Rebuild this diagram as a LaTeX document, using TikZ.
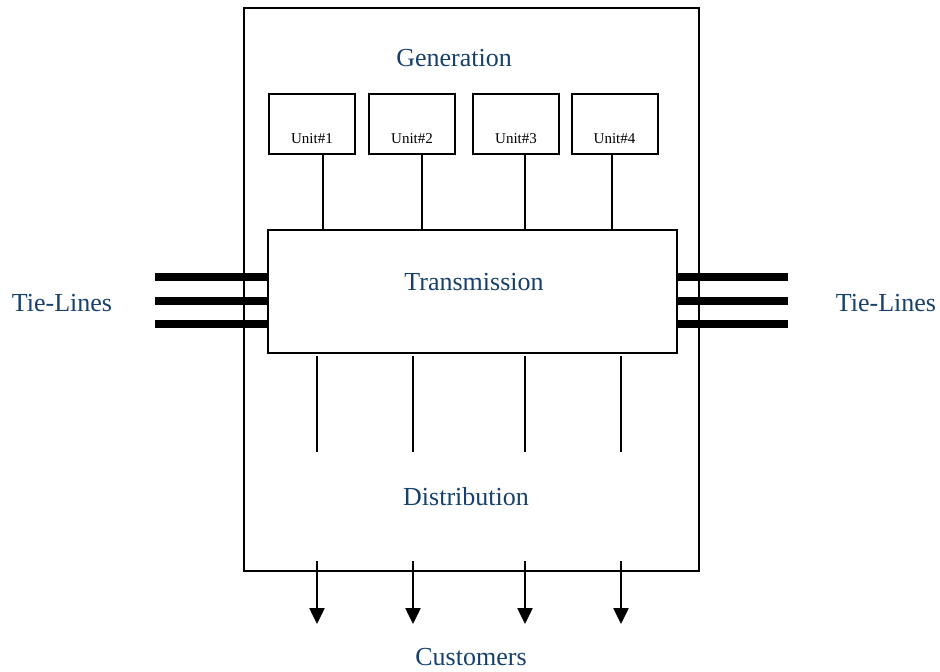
\documentclass[tikz,border=0pt]{standalone}
\usepackage{fontspec}
\setmainfont{Liberation Serif}
\usetikzlibrary{arrows.meta}
\definecolor{labelblue}{HTML}{17406D}
\begin{document}
\begin{tikzpicture}[x=1pt,y=-1pt,
  frame/.style={draw,line width=2pt},
  unitbox/.style={draw,line width=2pt,minimum width=86pt,minimum height=60pt,inner sep=0pt},
  unittext/.style={font=\fontsize{15}{17}\selectfont,inner sep=0pt},
  biglabel/.style={font=\fontsize{26}{30}\selectfont,text=labelblue,inner sep=0pt},
  wire/.style={line width=2pt},
  tieline/.style={line width=8pt},
  feeder/.style={line width=2.5pt,-{Triangle[width=15pt,length=16pt]}}]
\useasboundingbox (0,0) rectangle (940,672);

% system boundary
\node[frame,minimum width=455pt,minimum height=563pt,inner sep=0pt] (sys) at (471.5,289.5) {};

% generating units
\node[unitbox] (u1) at (312,124) {};
\node[unitbox] (u2) at (412,124) {};
\node[unitbox] (u3) at (516,124) {};
\node[unitbox] (u4) at (614.5,124) {};
\foreach \i in {1,...,4}
  \node[unittext] (t\i) at ([yshift=-15pt]u\i.center) {Unit\#\i};

% transmission block
\node[frame,minimum width=409pt,minimum height=123pt,inner sep=0pt] (tr) at (472.5,291) {};

% labels
\node[biglabel] (gen) at (454,58) {Generation};
\node[biglabel] (trl) at (474,282) {Transmission};
\node[biglabel] (dist) at (466,497) {Distribution};
\node[biglabel] (cust) at (471,657) {Customers};
\node[biglabel] (tl) at (62,303) {Tie-Lines};
\node[biglabel] (tr2) at (886,303) {Tie-Lines};

% units to transmission
\draw[wire] (u1.south -| 323,0) -- (323,0 |- tr.north);
\draw[wire] (u2.south -| 422,0) -- (422,0 |- tr.north);
\draw[wire] (u3.south -| 525,0) -- (525,0 |- tr.north);
\draw[wire] (u4.south -| 612,0) -- (612,0 |- tr.north);

% transmission to distribution
\foreach \x in {317,413,525,621}
  \draw[wire] (\x,356) -- (\x,452);

% tie-lines
\foreach \y in {277,301,324} {
  \coordinate (lw\y) at (155,\y);
  \coordinate (re\y) at (788,\y);
  \draw[tieline] (lw\y) -- (lw\y -| tr.west);
  \draw[tieline] (tr.east |- re\y) -- (re\y);
}

% feeders to customers
\foreach \x in {317,413,525,621} {
  \coordinate (fe\x) at (\x,624);
  \draw[feeder] (\x,561) -- (fe\x);
}
\end{tikzpicture}
\end{document}
